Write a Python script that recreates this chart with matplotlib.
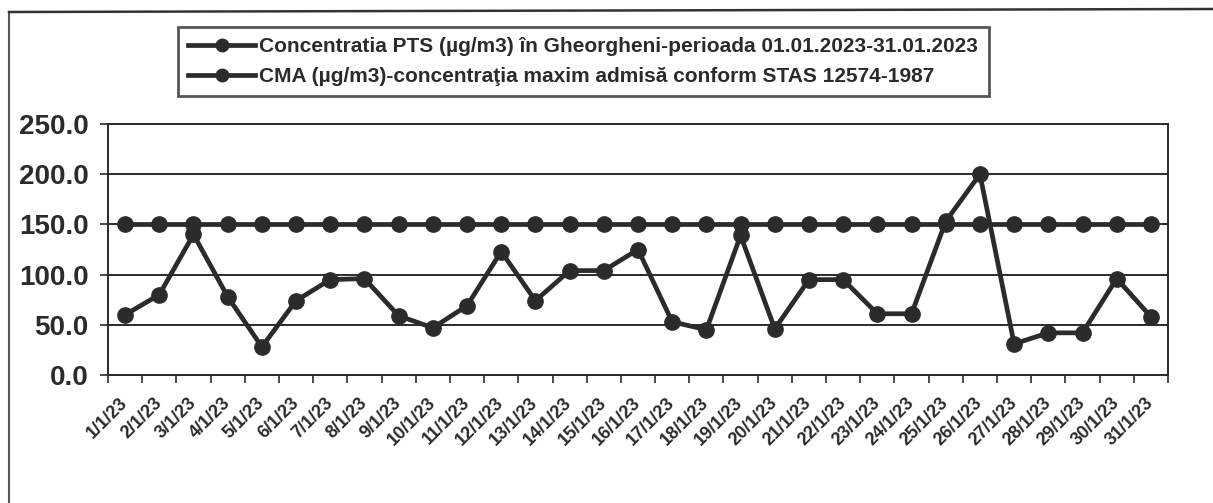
import matplotlib
matplotlib.use("Agg")
import matplotlib.pyplot as plt
from matplotlib.lines import Line2D
import numpy as np

plt.rcParams['font.family'] = ['Liberation Sans', 'DejaVu Sans']
plt.rcParams['font.weight'] = 'bold'

days = [f"{d}/1/23" for d in range(1, 32)]
pts = [60, 80, 140, 78, 28, 74, 95, 96, 59, 47, 69, 123, 74, 104, 104, 125,
       53, 45, 139, 46, 95, 95, 61, 61, 153, 200, 31, 42, 42, 96, 58]
cma = [150] * 31
label_pts = "Concentratia PTS (µg/m3) în Gheorgheni-perioada 01.01.2023-31.01.2023"
label_cma = "CMA (µg/m3)-concentraţia maxim admisă conform STAS 12574-1987"
yticks = [0, 50, 100, 150, 200, 250]

ink = "#2b2b2b"

fig = plt.figure(figsize=(12.13, 5.03), dpi=100)
ax = fig.add_axes([108 / 1213, 1 - 375 / 503, (1168 - 108) / 1213, (375 - 124) / 503])

x = np.arange(len(days))
ax.plot(x, cma, color=ink, lw=3.4, marker="o", ms=11, zorder=3)
ax.plot(x, pts, color=ink, lw=3.4, marker="o", ms=11, zorder=4)

ax.set_xlim(-0.5, len(days) - 0.5)
ax.set_ylim(0, 250)
ax.set_yticks(yticks)
ax.set_yticklabels([f"{v:.1f}" for v in yticks], fontsize=20, fontweight="bold", color=ink)
ax.tick_params(axis="y", length=6, width=1.2, color=ink, pad=8)
ax.yaxis.grid(True, color=ink, lw=1.4)
ax.set_axisbelow(True)

ax.set_xticks(x)
ax.set_xticklabels(days, rotation=45, ha="right", va="center", rotation_mode="anchor",
                   fontsize=13, fontweight="bold", color=ink)
ax.tick_params(axis="x", which="major", length=0, pad=18)
ax.set_xticks(np.arange(-0.5, len(days)), minor=True)
ax.tick_params(axis="x", which="minor", length=6, width=1.2, color=ink)

for s in ax.spines.values():
    s.set_color(ink)
    s.set_linewidth(1.4)

# legend box
h1 = Line2D([], [], color=ink, lw=3.4, marker="o", ms=9)
h2 = Line2D([], [], color=ink, lw=3.4, marker="o", ms=9)
leg = fig.legend([h1, h2], [label_pts, label_cma], loc="upper left",
                 bbox_to_anchor=(178 / 1213, 1 - 27 / 503), frameon=True, fancybox=False,
                 prop={"size": 15, "weight": "bold"}, handlelength=3.2, handletextpad=0.2,
                 labelspacing=0.5, borderpad=0.5, borderaxespad=0, edgecolor=ink)
leg.get_frame().set_linewidth(2)
for t in leg.get_texts():
    t.set_color(ink)

# outer frame of the scanned chart
fig.add_artist(Line2D([9 / 1213, 9 / 1213], [0, 1 - 12 / 503], transform=fig.transFigure, color="#555555", lw=1.5))
fig.add_artist(Line2D([9 / 1213, 1], [1 - 12 / 503, 1 - 9 / 503], transform=fig.transFigure, color="#333333", lw=1.8))

fig.savefig("out.png", dpi=100)
